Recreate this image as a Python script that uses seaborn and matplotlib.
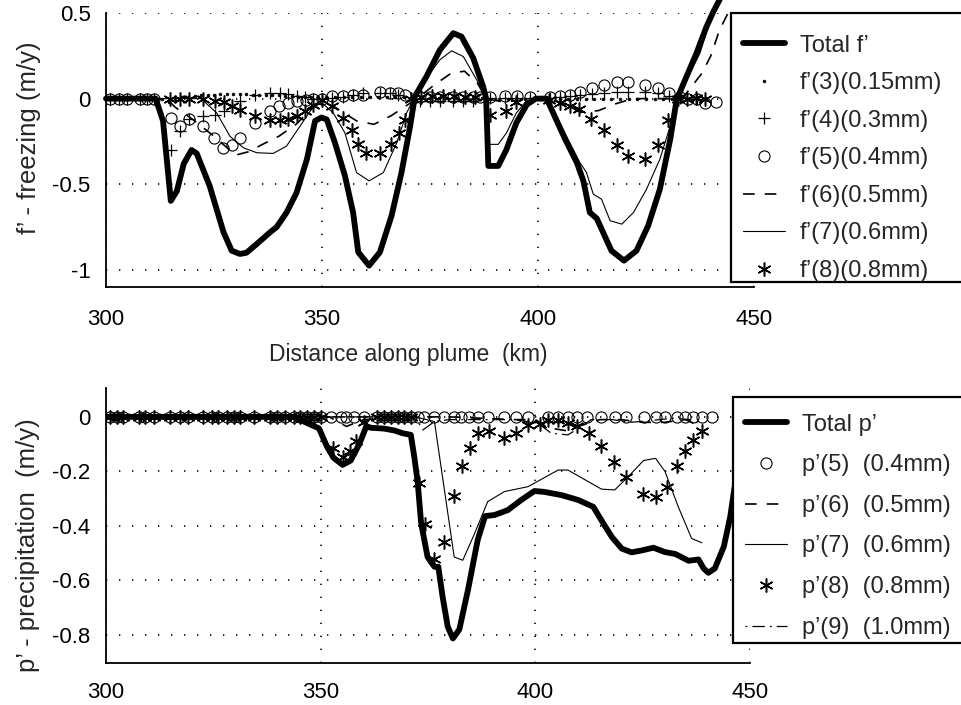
import matplotlib
matplotlib.use("Agg")
import matplotlib.pyplot as plt
from matplotlib.patches import Rectangle
import seaborn as sns

# ---------------- data ----------------
x_ticks = [300, 350, 400, 450]
x_tick_labels = ["300", "350", "400", "450"]
top_yticks = [0.5, 0, -0.5, -1]
top_ytick_labels = ["0.5", "0", "-0.5", "-1"]
bot_yticks = [0, -0.2, -0.4, -0.6, -0.8]
bot_ytick_labels = ["0", "-0.2", "-0.4", "-0.6", "-0.8"]

top_labels = ["Total f\u2019", "f\u2019(3)(0.15mm)", "f\u2019(4)(0.3mm)", "f\u2019(5)(0.4mm)",
              "f\u2019(6)(0.5mm)", "f\u2019(7)(0.6mm)", "f\u2019(8)(0.8mm)"]
bot_labels = ["Total p\u2019", "p\u2019(5)  (0.4mm)", "p\u2019(6)  (0.5mm)", "p\u2019(7)  (0.6mm)",
              "p\u2019(8)  (0.8mm)", "p\u2019(9)  (1.0mm)"]

# --- freezing (top panel) ---
tf_x = [300, 305, 310, 311.5, 313.2, 315.0, 316.4, 318.0, 319.8, 321.0, 324.0, 327.2, 329.1, 331.0,
        332.5, 334.9, 338.0, 339.5, 341.8, 344.1, 346.5, 348.4, 349.9, 351.1, 353.0, 355.3, 357.2,
        358.4, 360.9, 363.4, 366.1, 368.4, 370.4, 371.5, 374.2, 377.3, 380.4, 382.3, 385.0, 387.3,
        388.0, 388.5, 390.8, 392.7, 395.0, 397.4, 399.5, 402.0, 403.5, 406.3, 409.0, 410.5, 412.0,
        413.6, 417.0, 419.9, 422.8, 425.5, 428.2, 430.6, 432.1, 434.4, 436.7, 439.0, 440.6, 442.5]
tf_y = [0, 0, 0, 0, -0.13, -0.597, -0.54, -0.38, -0.30, -0.32, -0.51, -0.78, -0.888, -0.907,
        -0.90, -0.849, -0.78, -0.75, -0.665, -0.55, -0.355, -0.13, -0.11, -0.122, -0.258, -0.45, -0.665,
        -0.897, -0.975, -0.897, -0.684, -0.432, -0.161, 0.013, 0.13, 0.285, 0.382, 0.362, 0.237, 0.07,
        0.0, -0.393, -0.393, -0.297, -0.141, -0.035, 0.0, 0.0, -0.083, -0.238, -0.374, -0.48, -0.665,
        -0.70, -0.888, -0.946, -0.888, -0.742, -0.53, -0.238, -0.006, 0.13, 0.266, 0.42, 0.508, 0.60]

f3_x = [301.0, 303.0, 305.0, 307.0, 309.0, 311.0, 313.0, 314.5, 316.0, 317.5, 319.0, 320.5, 322.0,
        323.5, 325.0, 326.5, 328.0, 329.5, 331.0, 332.5, 334.0, 335.5, 337.0, 338.5, 340.0, 341.5,
        343.0, 344.5, 346.0, 347.5, 349.0, 351.0, 353.0, 355.0, 357.0, 359.0, 361.0, 363.0, 365.0,
        367.0, 369.0, 371.0, 373.0, 375.0, 377.0, 379.0, 381.0, 383.0, 385.0, 387.0, 389.0, 391.0,
        393.0, 395.0, 397.0, 399.0, 401.0, 403.0, 405.0, 407.0, 409.0, 411.0, 413.0, 415.0, 417.0,
        419.0, 421.0, 423.0, 425.0, 427.0, 429.0, 431.0, 433.0, 435.0, 437.0, 439.0]
f3_y = [0.0, 0.0, 0.0, 0.0, 0.0, 0.0, 0.0, -0.02, 0.0, 0.01, 0.01, 0.015, 0.02,
        0.02, 0.022, 0.025, 0.025, 0.025, 0.025, 0.025, 0.022, 0.02, 0.02, 0.02, 0.02, 0.018,
        0.015, 0.012, 0.01, 0.01, 0.01, 0.01, 0.01, 0.012, 0.012, 0.012, 0.01, 0.01, 0.01,
        0.01, 0.008, 0.008, 0.005, 0.005, 0.005, 0.005, 0.005, 0.005, 0.005, 0.005, 0.0, 0.0,
        0.0, 0.0, 0.0, 0.0, 0.0, -0.003, -0.003, -0.003, -0.003, -0.003, -0.003, -0.003, -0.003,
        -0.003, -0.003, -0.003, -0.003, -0.003, -0.003, -0.003, 0.0, 0.0, 0.0, 0.0]

f4_x = [300.9, 302.9, 304.8, 307.9, 309.4, 311.0, 315.0, 317.1, 319.3, 322.5, 325.2, 327.2, 331.0,
        334.5, 338.0, 340.3, 342.2, 344.1, 346.0, 348.0, 349.9, 352.2, 354.9, 357.2, 359.6, 363.4,
        365.7, 367.7, 372.7, 375.0, 377.3, 380.4, 382.7, 385.0, 388.9, 392.4, 395.2, 398.1, 402.8,
        405.1, 407.4, 409.7, 412.4, 415.3, 418.2, 420.9, 424.8, 427.8, 430.4, 432.9, 436.7]
f4_y = [0, 0, 0, 0, 0, 0, -0.30, -0.19, -0.12, -0.10, -0.093, -0.074, -0.015,
        0.023, 0.03, 0.03, 0.025, 0.016, 0.01, 0.0, 0.0, 0.005, 0.01, 0.02, 0.03, 0.03,
        0.03, 0.02, -0.015, -0.015, -0.015, -0.015, -0.015, -0.015, 0.005, 0.005, 0.005, 0.005, 0.005,
        0.01, 0.015, 0.02, 0.025, 0.035, 0.04, 0.04, 0.04, 0.03, 0.015, 0.005, 0.0]

f5_x = [300.9, 302.9, 304.8, 307.9, 309.4, 311.0, 315.0, 317.1, 319.3, 322.5, 325.1, 327.0, 329.1,
        331.0, 334.5, 338.0, 340.1, 342.2, 344.1, 346.4, 348.0, 349.9, 352.2, 354.9, 357.2, 359.6,
        363.4, 365.7, 367.7, 369.2, 372.7, 375.0, 377.3, 380.4, 382.7, 385.0, 386.6, 388.9, 392.4,
        395.2, 398.1, 402.8, 405.1, 407.4, 409.7, 412.4, 415.3, 418.2, 420.9, 424.8, 427.8, 430.4,
        432.9, 434.8, 436.7, 438.7, 441.2]
f5_y = [0, 0, 0, 0, 0, 0, -0.112, -0.157, -0.118, -0.161, -0.229, -0.287, -0.273,
        -0.229, -0.141, -0.074, -0.045, -0.025, -0.015, -0.01, 0.0, 0.0, 0.013, 0.013, 0.02, 0.02,
        0.04, 0.03, 0.03, 0.02, 0.01, 0.01, 0.01, 0.01, 0.01, 0.01, 0.01, 0.01, 0.013,
        0.013, 0.01, 0.01, 0.015, 0.02, 0.037, 0.062, 0.081, 0.10, 0.10, 0.081, 0.062, 0.035,
        0.01, 0.0, 0.0, -0.025, -0.02]

f6_x = [300, 314, 316, 320, 325, 330, 333, 336, 340, 344, 348, 350, 353, 358, 362, 366, 369, 372,
        376, 380, 383, 386, 388, 392, 396, 400, 405, 410, 414, 418, 422, 430, 434, 438, 440, 442, 444]
f6_y = [0, 0, -0.05, -0.12, -0.22, -0.33, -0.31, -0.27, -0.22, -0.15, -0.05, -0.02, -0.05, -0.13,
        -0.15, -0.10, -0.05, 0.0, 0.08, 0.15, 0.16, 0.09, 0.0, -0.02, -0.01, 0.0, -0.02, -0.08,
        -0.07, -0.03, 0.0, 0.0, 0.02, 0.15, 0.25, 0.40, 0.50]

f7_x = [300, 322.0, 325.6, 328.7, 331.8, 334.9, 338.7, 341.8, 344.9, 348.0, 350.0, 352.6, 355.3,
        358.0, 360.9, 364.2, 367.3, 369.6, 371.5, 375.0, 377.3, 380.0, 382.7, 385.8, 388.0, 388.5,
        390.8, 392.7, 395.0, 397.4, 400.0, 401.5, 403.5, 406.6, 409.7, 411.2, 412.8, 414.7, 416.7,
        419.4, 422.1, 425.1, 428.2, 430.6, 432.1, 434.8, 437.5, 439.4, 441.0]
f7_y = [0, 0, -0.083, -0.22, -0.287, -0.316, -0.32, -0.277, -0.161, -0.045, -0.025, -0.083, -0.20,
        -0.432, -0.48, -0.432, -0.258, -0.083, 0.013, 0.149, 0.227, 0.279, 0.246, 0.11, 0.0, -0.267,
        -0.267, -0.20, -0.083, -0.01, 0.0, 0.0, -0.064, -0.22, -0.374, -0.43, -0.558, -0.587, -0.713,
        -0.733, -0.665, -0.53, -0.354, -0.161, 0.0, 0.13, 0.266, 0.42, 0.52]

f8_x = [314.8, 317.1, 319.1, 322.5, 325.2, 327.2, 329.1, 331.0, 334.5, 338.0, 340.3, 342.2, 344.1,
        346.0, 347.9, 350.0, 352.2, 354.9, 356.9, 358.4, 360.2, 363.4, 365.9, 367.9, 369.2, 370.7,
        373.0, 375.5, 378.0, 380.5, 383.0, 385.5, 388.9, 392.6, 395.0, 402.5, 405.1, 407.4, 409.6,
        412.2, 415.3, 418.2, 420.9, 424.8, 427.7, 430.2, 432.5, 434.5, 436.5, 438.7]
f8_y = [0.0, 0.0, 0.0, 0.0, -0.015, -0.02, -0.045, -0.064, -0.10, -0.122, -0.126, -0.12, -0.10,
        -0.074, -0.035, -0.01, -0.045, -0.112, -0.184, -0.267, -0.316, -0.32, -0.267, -0.20, -0.122, 0.0,
        0.01, 0.015, 0.015, 0.015, 0.01, 0.01, -0.093, -0.07, -0.02, -0.01, -0.025, -0.045, -0.06,
        -0.118, -0.184, -0.273, -0.335, -0.355, -0.27, -0.126, 0.0, 0.0, 0.005, 0.0]

# --- precipitation (bottom panel) ---
tp_x = [300, 343.8, 346.9, 349.6, 351.5, 353.0, 355.1, 357.0, 359.0, 360.6, 361.8, 364.8, 367.2,
        369.1, 371.0, 371.8, 372.6, 373.4, 374.9, 376.5, 377.4, 378.4, 379.6, 380.8, 382.3, 384.3,
        386.6, 388.3, 390.5, 393.6, 396.7, 399.8, 402.0, 406.1, 410.0, 413.5, 415.8, 417.8, 420.1,
        422.4, 424.8, 427.5, 430.2, 432.6, 435.7, 438.0, 439.2, 440.3, 441.8, 443.9, 445.4, 446.2, 447.5]
tp_y = [0, 0, -0.023, -0.042, -0.11, -0.15, -0.176, -0.16, -0.10, -0.036, -0.04, -0.043, -0.05,
        -0.06, -0.066, -0.146, -0.24, -0.39, -0.514, -0.55, -0.55, -0.66, -0.77, -0.813, -0.78, -0.636,
        -0.45, -0.364, -0.36, -0.342, -0.305, -0.272, -0.275, -0.287, -0.305, -0.33, -0.39, -0.44, -0.483,
        -0.497, -0.49, -0.48, -0.496, -0.503, -0.528, -0.523, -0.556, -0.572, -0.556, -0.476, -0.366, -0.28, -0.15]

p5_x = [300.9, 302.5, 304.0, 307.6, 309.1, 311.1, 315.0, 317.3, 319.2, 322.7, 324.7, 326.2, 328.2,
        329.7, 331.3, 334.4, 338.3, 339.9, 341.8, 343.8, 345.3, 346.9, 348.4, 350.0, 352.3, 354.7,
        355.8, 357.8, 360.1, 363.2, 364.8, 366.4, 367.9, 369.5, 371.0, 372.6, 374.1, 376.5, 378.8,
        381.1, 382.6, 384.5, 386.6, 388.9, 392.8, 395.5, 398.3, 403.0, 405.3, 407.6, 409.7, 412.1,
        415.4, 418.5, 421.2, 425.2, 428.0, 430.2, 432.9, 434.8, 436.8, 438.8, 441.2]
p5_y = [0, 0, 0, 0, 0, 0, 0, 0, 0, 0, 0, 0, 0,
        0, 0, 0, 0, 0, 0, 0, 0, 0, 0, 0, 0, 0,
        0, 0, 0, 0, 0, 0, 0, 0, 0, 0, 0, 0, 0,
        0, 0, 0, 0, 0, 0, 0, 0, 0, 0, 0, 0, 0,
        0, 0, 0, 0, 0, 0, 0, 0, 0, 0, 0]

p6_x = [300, 352, 356, 360, 372, 380, 395, 400, 403, 407, 410, 415, 420, 425, 430, 435, 438.5]
p6_y = [0, 0, -0.035, -0.01, 0, 0, -0.01, -0.01, -0.04, -0.05, -0.035, -0.01, -0.01, -0.02,
        -0.02, -0.01, -0.035]

p7_x = [300, 372.0, 376.5, 381.1, 383.1, 385.8, 388.9, 392.8, 398.3, 401.4, 405.3, 407.6, 415.4,
        418.5, 421.6, 425.2, 428.0, 430.2, 433.3, 436.4, 438.8]
p7_y = [0, 0, -0.017, -0.514, -0.526, -0.43, -0.311, -0.274, -0.256, -0.229, -0.195, -0.195, -0.265,
        -0.268, -0.22, -0.16, -0.152, -0.20, -0.33, -0.446, -0.462]

p8_x = [300.9, 302.5, 304.0, 307.6, 309.1, 311.1, 315.0, 317.3, 319.2, 322.7, 324.7, 326.2, 328.2,
        329.7, 331.3, 334.4, 338.3, 339.9, 341.8, 343.8, 345.3, 346.9, 348.4, 350.0, 352.9, 355.1,
        356.9, 358.2, 360.1, 363.2, 364.8, 366.4, 367.9, 369.5, 371.0, 373.0, 374.3, 376.5, 378.7,
        381.0, 382.9, 384.7, 386.6, 389.1, 392.7, 395.4, 398.4, 401.0, 403.0, 405.3, 407.6, 409.7,
        412.5, 415.4, 418.4, 421.1, 425.0, 428.0, 430.6, 432.9, 434.9, 436.8, 438.9]
p8_y = [0, 0, 0, 0, 0, 0, 0, 0, 0, 0, 0, 0, 0,
        0, 0, 0, 0, 0, 0, 0, 0, 0, 0, 0, -0.115, -0.146,
        -0.125, -0.09, -0.017, 0, 0, 0, 0, 0, 0, -0.244, -0.393, -0.52, -0.458,
        -0.29, -0.18, -0.115, -0.06, -0.05, -0.076, -0.06, -0.03, -0.025, -0.011, -0.012, -0.023, -0.033,
        -0.06, -0.105, -0.164, -0.222, -0.283, -0.293, -0.258, -0.18, -0.124, -0.085, -0.05]

p9_x = [300, 372, 373.8, 376.5, 380, 395, 400.6, 403.7, 407.6, 410.3, 413, 418, 422, 426, 432, 436, 439]
p9_y = [0, 0, -0.048, -0.017, -0.01, -0.01, -0.023, -0.06, -0.066, -0.04, -0.01, -0.01, -0.02,
        -0.015, -0.005, -0.01, -0.03]

# ---------------- style ----------------
sns.set_style("white")
FONT = "Liberation Sans"
plt.rcParams["font.family"] = [FONT, "DejaVu Sans"]
plt.rcParams["axes.unicode_minus"] = False

TICK_FS = 16
XLABEL_FS = 16.5
YLABEL_FS = 18.5
LEG_FS = 17

W, H = 962, 705
fig = plt.figure(figsize=(W / 100, H / 100), dpi=100)


def px_axes(l, t, r, b):
    return [l / W, 1 - b / H, (r - l) / W, (b - t) / H]


ax1 = fig.add_axes(px_axes(106, 13, 754, 287))
ax2 = fig.add_axes(px_axes(106, 388, 750, 663))


def draw(ax, xs, ys, **kw):
    kw.setdefault("color", "black")
    kw.setdefault("markeredgecolor", "black")
    sns.lineplot(x=xs, y=ys, ax=ax, estimator=None, sort=False, errorbar=None,
                 legend=False, **kw)
    return ax.lines[-1]


AST = (6, 2, 0)
MS = 8

# top panel
h_f7 = draw(ax1, f7_x, f7_y, linewidth=0.8)
h_f6 = draw(ax1, f6_x, f6_y, linewidth=1.2, linestyle=(0, (7, 6)), clip_on=False)
h_f3 = draw(ax1, f3_x, f3_y, linestyle="none", marker=".", markersize=4,
            markerfacecolor="black", markeredgewidth=0.5)
h_f4 = draw(ax1, f4_x, f4_y, linestyle="none", marker="+", markersize=MS + 1, markeredgewidth=0.9)
h_f5 = draw(ax1, f5_x, f5_y, linestyle="none", marker="o", markersize=MS,
            markerfacecolor="none", markeredgewidth=0.8)
h_f8 = draw(ax1, f8_x, f8_y, linestyle="none", marker=AST, markersize=MS + 2, markeredgewidth=1.1)
h_tf = draw(ax1, tf_x, tf_y, linewidth=4.2, clip_on=False, solid_joinstyle="round")

# bottom panel
h_p9 = draw(ax2, p9_x, p9_y, linewidth=0.9, linestyle=(0, (1.5, 4, 10, 4)))
h_p6 = draw(ax2, p6_x, p6_y, linewidth=1.2, linestyle=(0, (7, 6)))
h_p7 = draw(ax2, p7_x, p7_y, linewidth=0.8)
h_p5 = draw(ax2, p5_x, p5_y, linestyle="none", marker="o", markersize=MS,
            markerfacecolor="none", markeredgewidth=0.8)
h_p8 = draw(ax2, p8_x, p8_y, linestyle="none", marker=AST, markersize=MS + 2, markeredgewidth=1.1)
h_tp = draw(ax2, tp_x, tp_y, linewidth=4.2, solid_joinstyle="round")


def style(ax, ylim, yt, ytl, xpad):
    ax.set_xlim(300, 450)
    ax.set_ylim(*ylim)
    ax.set_xticks(x_ticks)
    ax.set_xticklabels(x_tick_labels)
    ax.set_yticks(yt)
    ax.set_yticklabels(ytl)
    for s in ["top", "right"]:
        ax.spines[s].set_visible(False)
    for s in ["left", "bottom"]:
        ax.spines[s].set_linewidth(1.3)
        ax.spines[s].set_color("black")
    ax.tick_params(axis="both", direction="in", length=5, width=1, colors="black",
                   labelsize=TICK_FS)
    ax.tick_params(axis="x", pad=xpad)
    ax.tick_params(axis="y", pad=11)
    ax.grid(True, color="black", linestyle=(0, (0.8, 7)), linewidth=1.2)
    ax.set_axisbelow(True)
    ax.set_xlabel("")
    ax.set_ylabel("")


style(ax1, (-1.1, 0.5), top_yticks, top_ytick_labels, 16)
style(ax2, (-0.903, 0.106), bot_yticks, bot_ytick_labels, 13.5)

ax1.set_xlabel("Distance along plume  (km)", fontsize=XLABEL_FS)
ax1.xaxis.set_label_coords(0.466, -0.248)
ax1.xaxis.label.set_va("center")
ax1.set_ylabel("f\u2019 - freezing (m/y)", fontsize=YLABEL_FS)
ax2.set_ylabel("p\u2019 - precipitation  (m/y)", fontsize=YLABEL_FS)
ax1.yaxis.set_label_coords(-0.101, 0.546)
ax2.yaxis.set_label_coords(-0.102, 0.43)

# legend frames (boxes run past the right edge of the figure, as in the reference)
for (l, t, b) in [(731, 13, 282), (733, 397, 643)]:
    fig.patches.append(Rectangle((l / W, 1 - b / H), (990 - l) / W, (b - t) / H,
                                 transform=fig.transFigure, facecolor="white",
                                 edgecolor="black", linewidth=1.6, zorder=4))

leg_kw = dict(loc="upper left", frameon=False, borderaxespad=0, borderpad=0,
              handlelength=1.78, handletextpad=0.62, prop={"size": LEG_FS})
l1 = fig.legend([h_tf, h_f3, h_f4, h_f5, h_f6, h_f7, h_f8], top_labels,
                bbox_to_anchor=(743 / W, 1 - 34.5 / H), labelspacing=0.66, **leg_kw)
l2 = fig.legend([h_tp, h_p5, h_p6, h_p7, h_p8, h_p9], bot_labels,
                bbox_to_anchor=(745 / W, 1 - 413.5 / H), labelspacing=0.79, **leg_kw)
for lg in (l1, l2):
    lg.set_zorder(5)

fig.savefig("out.png", dpi=100)
